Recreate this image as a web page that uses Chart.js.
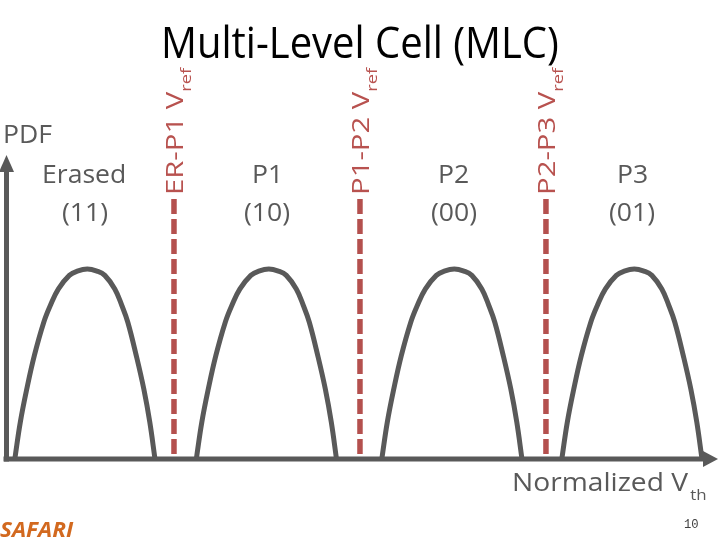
<!DOCTYPE html>
<html>
<head>
<meta charset="utf-8">
<script src="https://cdn.jsdelivr.net/npm/chart.js@4.4.0/dist/chart.umd.min.js"></script>
<style>
html,body{margin:0;padding:0;background:#fff;}
#stage{position:relative;width:720px;height:540px;overflow:hidden;background:#fff;}
#c{position:absolute;left:0;top:0;}
.t{position:absolute;left:0;top:0;white-space:nowrap;font-family:'Open Sans',sans-serif;line-height:1.2;transform-origin:0 0;}
.g{color:#595959;font-size:25px;}
.vr{color:#b8524f;font-size:24px;}
.title{color:#000;font-size:43px;}
.sub{font-size:15px;vertical-align:-8px;}
.subx{font-size:15px;vertical-align:-9px;margin-left:2px;}
.pg{color:#404040;font-size:13px;font-family:'Liberation Mono',monospace;}
.logo{color:#d2691f;font-size:21px;font-weight:bold;font-style:italic;}
</style>
</head>
<body>
<div id="stage"><canvas id="c" width="720" height="540"></canvas></div>
<script>
// ---------- data ----------
const titleText = 'Multi-Level Cell (MLC)';
const yAxisLabel = 'PDF';
const xAxisLabel = 'Normalized V';
const xAxisSub = 'th';
const stateNames = ['Erased', 'P1', 'P2', 'P3'];
const stateBits = ['(11)', '(10)', '(00)', '(01)'];
const vrefNames = ['ER-P1', 'P1-P2', 'P2-P3'];
const vrefX = [2.354, 4.968, 7.582];      // normalized Vth of the read reference voltages
const vrefTop = 0.855;                     // top of the dashed Vref lines (PDF units)
const xMax = 10;
const yMax = 1;

// PDF values (shared by the four distributions)
const pdfY = [0, 0.121, 0.230, 0.340, 0.450, 0.505, 0.559, 0.604, 0.618, 0.625, 0.618, 0.604, 0.559, 0.505, 0.450, 0.340, 0.230, 0.121, 0];
// Vth samples of each state's distribution
const erasedX = [0.117, 0.194, 0.285, 0.391, 0.524, 0.616, 0.728, 0.883, 0.995, 1.136, 1.272, 1.382, 1.522, 1.621, 1.705, 1.824, 1.930, 2.014, 2.087];
const p1X     = [2.668, 2.745, 2.836, 2.942, 3.075, 3.167, 3.279, 3.434, 3.546, 3.687, 3.823, 3.933, 4.073, 4.172, 4.256, 4.375, 4.481, 4.565, 4.638];
const p2X     = [5.275, 5.352, 5.443, 5.549, 5.682, 5.774, 5.886, 6.041, 6.153, 6.294, 6.430, 6.540, 6.680, 6.779, 6.863, 6.982, 7.088, 7.172, 7.245];
const p3X     = [7.805, 7.882, 7.973, 8.079, 8.212, 8.304, 8.416, 8.571, 8.683, 8.824, 8.960, 9.070, 9.210, 9.309, 9.393, 9.512, 9.618, 9.702, 9.775];
const stateX = [erasedX, p1X, p2X, p3X];

// ---------- chart ----------
const GRAY = '#595959';
const RED = '#b4504e';
const datasets = [];
stateX.forEach((xs, i) => {
  datasets.push({
    label: stateNames[i],
    data: xs.map((x, k) => ({x, y: pdfY[k]})),
    borderColor: GRAY, borderWidth: 5, pointRadius: 0, fill: false,
    tension: 0.4, borderCapStyle: 'butt', borderJoinStyle: 'round'
  });
});
vrefX.forEach((x, i) => {
  datasets.push({
    label: vrefNames[i] + ' Vref',
    data: [{x, y: vrefTop}, {x, y: 0}],
    borderColor: RED, borderWidth: 5.5, borderDash: [15, 5], pointRadius: 0, fill: false,
    borderCapStyle: 'butt', tension: 0
  });
});

const axesPlugin = {
  id: 'arrowAxes',
  afterDatasetsDraw(chart) {
    const {ctx, scales: {x, y}} = chart;
    const x0 = x.getPixelForValue(0), y0 = y.getPixelForValue(0);
    const xe = x.getPixelForValue(xMax), ye = y.getPixelForValue(yMax);
    ctx.save();
    ctx.strokeStyle = GRAY; ctx.fillStyle = GRAY; ctx.lineWidth = 5; ctx.lineCap = 'butt';
    ctx.beginPath(); ctx.moveTo(x0 - 3, y0); ctx.lineTo(xe - 13, y0); ctx.stroke();
    ctx.beginPath(); ctx.moveTo(xe, y0); ctx.lineTo(xe - 15, y0 - 8); ctx.lineTo(xe - 15, y0 + 8); ctx.closePath(); ctx.fill();
    ctx.beginPath(); ctx.moveTo(x0, y0 + 2.5); ctx.lineTo(x0, ye + 15); ctx.stroke();
    ctx.beginPath(); ctx.moveTo(x0, ye); ctx.lineTo(x0 - 7.5, ye + 17); ctx.lineTo(x0 + 7.5, ye + 17); ctx.closePath(); ctx.fill();
    ctx.restore();
  }
};

const chart = new Chart(document.getElementById('c'), {
  type: 'line',
  data: {datasets},
  options: {
    responsive: false, animation: false, devicePixelRatio: 1,
    layout: {padding: {left: 6.5, right: 2, top: 155, bottom: 81}},
    scales: {
      x: {type: 'linear', min: 0, max: xMax, display: false},
      y: {type: 'linear', min: 0, max: yMax, display: false}
    },
    plugins: {legend: {display: false}, tooltip: {enabled: false}, title: {display: false}},
    datasets: {line: {clip: false}}
  },
  plugins: [axesPlugin]
});

// ---------- text (real HTML text) ----------
const stage = document.getElementById('stage');
function mk(cls, html) {
  const d = document.createElement('div');
  d.className = 't ' + cls; d.innerHTML = html; stage.appendChild(d); return d;
}
function metrics(el) {
  const m = document.createElement('span');
  m.style.cssText = 'display:inline-block;width:0;height:0;vertical-align:baseline;';
  el.appendChild(m);
  const b = m.offsetTop;
  el.removeChild(m);
  return {b, w: el.offsetWidth};
}
function place(el, o) {
  const {b, w} = metrics(el);
  const s = o.width ? o.width / w : (o.scale || 1);
  const sw = w * s;
  if (o.rotate) {
    el.style.left = (o.bx - b) + 'px';
    el.style.top = o.y0 + 'px';
    el.style.transform = `rotate(-90deg) scaleX(${s})`;
  } else {
    const left = o.left != null ? o.left : (o.center != null ? o.center - sw / 2 : o.right - sw);
    el.style.left = left + 'px';
    el.style.top = (o.baseline - b) + 'px';
    el.style.transform = `scaleX(${s})`;
  }
  return s;
}

place(mk('title', titleText), {left: 160.5, width: 398, baseline: 57.5});

const erasedEl = mk('g', stateNames[0]);
const kState = place(erasedEl, {center: 84, width: 84, baseline: 183});
place(mk('g', yAxisLabel), {left: 3, scale: kState, baseline: 143});
const stateCenters = [84.5, 267, 453.5, 632];
stateNames.forEach((n, i) => {
  if (i > 0) place(mk('g', n), {center: stateCenters[i], scale: kState, baseline: 183});
  place(mk('g', stateBits[i]), {center: stateCenters[i], scale: kState, baseline: 221});
});

const xs = chart.scales.x;
vrefNames.forEach((n, i) => {
  const el = mk('vr', n + ' V<span class="sub">ref</span>');
  place(el, {rotate: true, bx: xs.getPixelForValue(vrefX[i]) + 9, y0: 195, width: 127});
});

place(mk('g', xAxisLabel + '<span class="subx">' + xAxisSub + '</span>'), {left: 512, width: 195, baseline: 491});
place(mk('pg', '10'), {left: 684, width: 15, baseline: 528});
place(mk('logo', 'SAFARI'), {left: 0, width: 73, baseline: 536.5});
</script>
</body>
</html>
